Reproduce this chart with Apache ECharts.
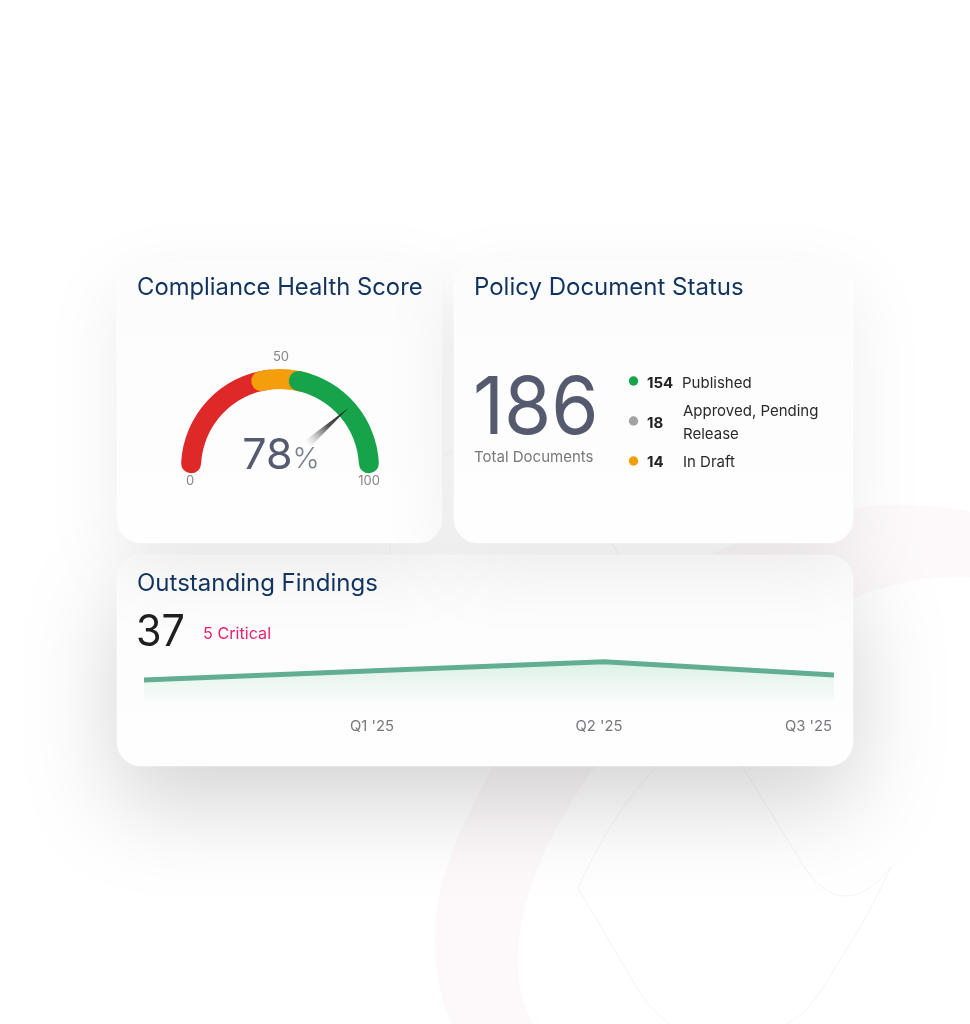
<!DOCTYPE html>
<html><head><meta charset="utf-8">
<style>html,body{margin:0;padding:0;background:#fff}#c{width:970px;height:1024px}</style>
<script src="https://cdn.jsdelivr.net/npm/echarts@6/dist/echarts.min.js"></script></head>
<body><div id="c"></div>
<script>
const scoreValue = 78;
const gaugeBandStarts = [0, 43, 57];
const gaugeBandEnds = [46, 60, 100];
const gaugeBandColors = ['#df2828', '#f59e0b', '#16a34a'];
const gaugeTicks = ['0', '50', '100'];
const totalDocuments = 186;
const statusCounts = [154, 18, 14];
const statusNames = ['Published', 'Approved, Pending\nRelease', 'In Draft'];
const statusColors = ['#16a34a', '#a3a3a3', '#f59e0b'];
const quarters = ['', "Q1 '25", "Q2 '25", "Q3 '25"];
const findings = [30, 43, 56, 37];
const outstanding = 37;
const criticalCount = 5;

const FONT = 'Inter, sans-serif';
const START = 177, SWEEP = 174;
const C = [280, 468];
const angleAt = v => START - SWEEP * v / 100;
const hidden = {axisTick:{show:false},splitLine:{show:false},axisLabel:{show:false}};

const bandSeries = gaugeBandColors.map((color, i) => ({
  type:'gauge', center:C, radius:99, min:0, max:100, z:2,
  startAngle:angleAt(gaugeBandStarts[i]), endAngle:angleAt(gaugeBandEnds[i]),
  axisLine:{roundCap:true, lineStyle:{width:20, color:[[1,color]]}},
  ...hidden, pointer:{show:false}, anchor:{show:false}, title:{show:false}, detail:{show:false}, data:[]
}));

const needle = {
  type:'gauge', center:C, radius:99, min:0, max:100, z:3,
  startAngle:START, endAngle:START-SWEEP,
  axisLine:{show:false}, ...hidden, anchor:{show:false}, title:{show:false},
  pointer:{show:true, icon:'path://M5 0 L10 100 L0 100 Z', width:14, length:91,
    itemStyle:{color:{type:'linear',x:0,y:0,x2:0,y2:1,colorStops:[
      {offset:0,color:'#161616'},{offset:.3,color:'#555'},{offset:.6,color:'rgba(150,150,150,0)'},{offset:1,color:'rgba(150,150,150,0)'}]}}},
  detail:{show:true, offsetCenter:[1,-12], valueAnimation:false,
    formatter:v=>`{a|${v}}{b|%}`,
    rich:{a:{fontFamily:FONT,fontWeight:400,fontSize:43,color:'#555a6e'},
          b:{fontFamily:FONT,fontWeight:300,fontSize:29,color:'#7b7f92',padding:[6,0,0,0]}}},
  data:[{value:scoreValue}]
};

const lineSeries = {
  type:'line', data:findings, symbol:'none', smooth:false, z:3,
  lineStyle:{color:'#62ae93',width:5,cap:'butt',join:'miter'},
  areaStyle:{color:{type:'linear',x:0,y:0,x2:0,y2:1,colorStops:[
    {offset:0,color:'rgba(190,230,210,.8)'},{offset:1,color:'rgba(215,240,228,.18)'}]}}
};

const txt = (x,y,text,size,color,extra={},scaleX=1) => ({type:'text',x,y,scaleX,z:6,silent:true,style:Object.assign({
  text,fontFamily:FONT,fontSize:size,fill:color,verticalAlign:'middle'},extra)});

const card = (x,y,w,h,alpha,blur,off) => ({type:'rect',z:1,silent:true,
  shape:{x,y,width:w,height:h,r:24},
  style:{fill:{type:'linear',x:0,y:0,x2:0,y2:1,colorStops:[{offset:0,color:'#fcfcfc'},{offset:1,color:'#fefefe'}]},
    stroke:'rgba(255,255,255,.5)',lineWidth:1,
    shadowBlur:blur,shadowOffsetY:off,shadowColor:`rgba(0,0,0,${alpha})`}});

// background decoration outlines, flattened from cubic segments
function flat(d){
  const t=d.trim().split(/\s+/);let i=0,p=[0,0];const out=[];
  while(i<t.length){const c=t[i][0];t[i]=t[i].slice(1);
    const n=()=>{let v=t[i++];return +v;};
    if(c==='M'||c==='L'){p=[n(),n()];out.push(p);}
    else if(c==='C'){const a=[n(),n()],b=[n(),n()],e=[n(),n()];
      for(let k=1;k<=16;k++){const u=k/16,w=1-u;
        out.push([w*w*w*p[0]+3*w*w*u*a[0]+3*w*u*u*b[0]+u*u*u*e[0],
                  w*w*w*p[1]+3*w*w*u*a[1]+3*w*u*u*b[1]+u*u*u*e[1]]);}
      p=e;}
  }
  return out;
}
const outline=(d,a)=>({type:'polyline',z:0,silent:true,shape:{points:flat(d)},style:{fill:null,stroke:`rgba(0,0,0,${a})`,lineWidth:1}});
const bg = [
  {type:'polygon',z:0,silent:true,shape:{points:flat('M451 1024 C438 990 433 960 435 925 C438 880 460 825 493 766 C560 650 670 565 745 540 C800 518 860 503 905 505 C935 506 955 508 970 512 L970 577 C935 575 890 582 850 600 C760 640 650 690 596 766 C550 830 522 890 518 950 C516 985 523 1005 533 1024')},
    style:{fill:'rgba(225,130,150,.05)'}},
  outline('M656 767 C620 806 595 850 578 888 L640 993 C650 1008 660 1016 669 1024',.05),
  outline('M612 543 L742 766 L800 860 C815 885 830 896 846 896 C862 896 878 884 891 867 C875 900 860 930 844 953 C830 978 815 1000 804 1012 C798 1017 793 1020 787 1024',.05),
  outline('M390 540 L390 556',.04),
  outline('M443 456 L455 450',.04)
];

const cards = [card(117,555,736,211,.17,90,38), card(117,262,325,281,.07,70,24), card(454,262,399,281,.07,70,24)];

const dotY = [381,421,461], labelY = [383,423,462], labelX=[682,683,683];
const legendEls = [];
statusCounts.forEach((n,i)=>{
  legendEls.push({type:'circle',z:6,silent:true,shape:{cx:633.5,cy:dotY[i],r:4.7},style:{fill:statusColors[i]}});
  legendEls.push(txt(647,labelY[i],String(n),15,'#222',{fontWeight:700}));
  legendEls.push(txt(labelX[i],labelY[i],statusNames[i],15,'#2a2a2a',{lineHeight:23}));
});

const texts = [
  txt(137,288,'Compliance Health Score',23.8,'#10335f'),
  txt(474,288,'Policy Document Status',24,'#10335f'),
  txt(137,584,'Outstanding Findings',24,'#10335f'),
  txt(190,481,gaugeTicks[0],13,'#86868a',{align:'center'}),
  txt(281,357,gaugeTicks[1],13,'#86868a',{align:'center'}),
  txt(369,481,gaugeTicks[2],13,'#86868a',{align:'center'}),
  txt(473,410,String(totalDocuments),80,'#555a6e',{fontWeight:400},.955),
  txt(474,457,'Total Documents',15,'#77787c'),
  txt(136,633,String(outstanding),44,'#1f1f1f',{fontWeight:400},.94),
  txt(203,634,criticalCount+' Critical',16.2,'#e8226e')
];

const labelPad = [0,4,10,2];
const labelAlign = ['center','center','center','right'];
const chart = echarts.init(document.getElementById('c'),null,{renderer:'canvas'});
chart.setOption({
  animation:false, backgroundColor:'#fff',
  graphic:{elements:[...bg,...cards,...legendEls,...texts]},
  grid:{left:144,width:690,top:651.8,height:49.2},
  xAxis:{type:'category',boundaryGap:false,z:3,
    data:quarters.map((q,i)=>({value:q,textStyle:{align:labelAlign[i],padding:[0,labelPad[i],0,0]}})),
    axisLine:{show:false},axisTick:{show:false},
    axisLabel:{color:'#77787c',fontFamily:FONT,fontSize:14.8,margin:18,interval:0,showMaxLabel:true,showMinLabel:false}},
  yAxis:{type:'value',min:0,max:70,show:false,splitLine:{show:false}},
  series:[...bandSeries,needle,lineSeries]
});
</script></body></html>
